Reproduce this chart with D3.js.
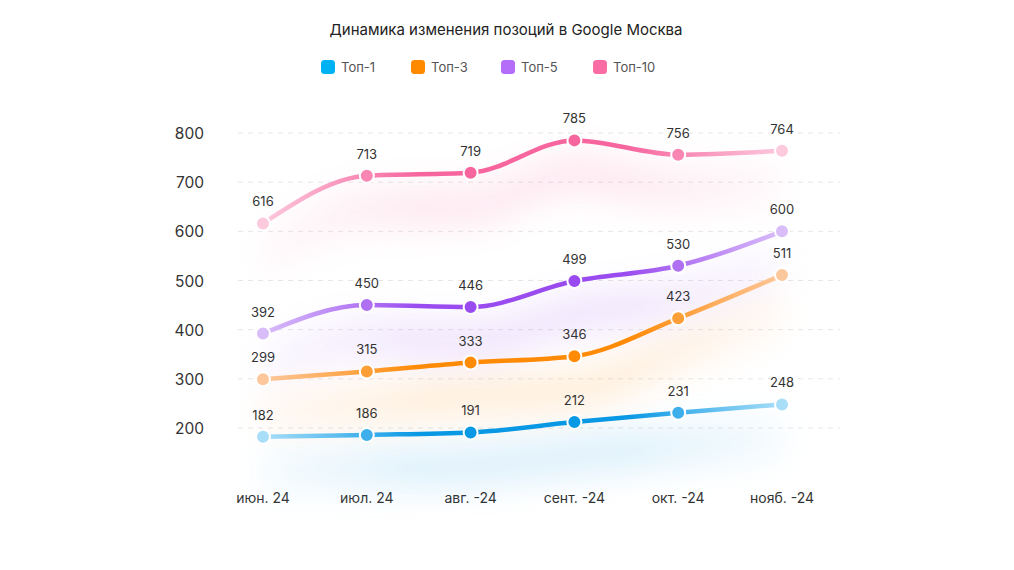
<!DOCTYPE html>
<html>
  <head>
    <meta charset="utf-8">
    <style>
      body { margin: 0; background: #fff; }
      text { font-family: Inter, "Noto Sans", sans-serif; }
    </style>
  </head>
  <body>
    <div id="vis"></div>
    <script src="https://d3js.org/d3.v7.min.js"></script>
    <script>
      const months = ['июн. 24', 'июл. 24', 'авг. -24', 'сент. -24', 'окт. -24', 'нояб. -24']
      const yTicks = [200, 300, 400, 500, 600, 700, 800]
      const seriesNames = ['Топ-1', 'Топ-3', 'Топ-5', 'Топ-10']
      const top1 = [182, 186, 191, 212, 231, 248]
      const top3 = [299, 315, 333, 346, 423, 511]
      const top5 = [392, 450, 446, 499, 530, 600]
      const top10 = [616, 713, 719, 785, 756, 764]
      // legend colour, dark line colour, pale end colour
      const legendColors = ['#00b2f4', '#ff8a00', '#b36df8', '#f96da4']
      const darkColors = ['#0898e4', '#ff8a05', '#9a4bef', '#f7659e']
      const lightColors = ['#a9def8', '#fdc79c', '#d9bdf9', '#fcc9dd']

      const width = 1014, height = 570
      const svg = d3.select('#vis').append('svg').attr('width', width).attr('height', height)
      const defs = svg.append('defs')

      const x = d3.scalePoint().domain(months).range([263, 782])
      const y = d3.scaleLinear().domain([200, 800]).range([428, 133])

      const blur = defs.append('filter').attr('id', 'glow')
        .attr('x', '-30%').attr('y', '-80%').attr('width', '160%').attr('height', '260%')
      blur.append('feGaussianBlur').attr('stdDeviation', 16)

      // title
      svg.append('text').attr('x', 506).attr('y', 35).attr('text-anchor', 'middle')
        .attr('font-size', 15).attr('fill', '#222').text('Динамика изменения позоций в Google Москва')

      // legend
      const legendX = [321, 411, 501, 593]
      const lg = svg.selectAll('.lg').data(seriesNames).join('g').attr('class', 'lg')
        .attr('transform', (d, i) => 'translate(' + legendX[i] + ',60)')
      lg.append('rect').attr('width', 14).attr('height', 14).attr('rx', 3.5)
        .attr('fill', (d, i) => legendColors[i])
      lg.append('text').attr('x', 20).attr('y', 12).attr('font-size', 13).attr('fill', '#555').text(d => d)

      // grid + y labels
      svg.append('g').selectAll('line').data(yTicks).join('line')
        .attr('x1', 238).attr('x2', 840).attr('y1', d => y(d)).attr('y2', d => y(d))
        .attr('stroke', '#e6e6e6').attr('stroke-dasharray', '5,5')
      svg.append('g').selectAll('text').data(yTicks).join('text')
        .attr('x', 204).attr('y', d => y(d) + 6).attr('text-anchor', 'end')
        .attr('font-size', 15.5).attr('fill', '#333').text(d => d)

      // x labels
      svg.append('g').selectAll('text').data(months).join('text')
        .attr('x', d => x(d)).attr('y', 503).attr('text-anchor', 'middle')
        .attr('font-size', 14).attr('fill', '#333').text(d => d)

      const series = [top1, top3, top5, top10]
      const line = d3.line().x((d, i) => x(months[i])).y(d => y(d)).curve(d3.curveMonotoneX)
      const area = d3.area().x((d, i) => x(months[i])).y0(d => y(d) + 55).y1(d => y(d) + 12).curve(d3.curveMonotoneX)

      // colour along each line: pale -> dark -> pale
      const stops = [0, 0.3, 0.7, 1]
      const ramp = i => {
        const c = d3.scaleLinear().domain(stops)
          .range([lightColors[i], darkColors[i], darkColors[i], lightColors[i]])
          .interpolate(d3.interpolateRgb)
        return t => c(t)
      }

      series.forEach((vals, i) => {
        const col = ramp(i)
        const g = defs.append('linearGradient').attr('id', 'grad' + i)
          .attr('gradientUnits', 'userSpaceOnUse')
          .attr('x1', x(months[0])).attr('x2', x(months[months.length - 1])).attr('y1', 0).attr('y2', 0)
        d3.range(0, 1.001, 0.1).forEach(t => {
          g.append('stop').attr('offset', t).attr('stop-color', col(t))
        })
      })

      // soft glows under lines
      series.forEach((vals, i) => {
        svg.append('path').datum(vals).attr('d', area)
          .attr('fill', 'url(#grad' + i + ')').attr('opacity', 0.13).attr('filter', 'url(#glow)')
      })

      series.forEach((vals, i) => {
        const col = ramp(i)
        svg.append('path').datum(vals).attr('d', line)
          .attr('fill', 'none').attr('stroke', 'url(#grad' + i + ')').attr('stroke-width', 4.5)
          .attr('stroke-linecap', 'round')
        svg.append('g').selectAll('circle').data(vals).join('circle')
          .attr('cx', (d, j) => x(months[j])).attr('cy', d => y(d)).attr('r', 7)
          .attr('fill', (d, j) => col(j / (vals.length - 1)))
          .attr('stroke', '#fff').attr('stroke-width', 2)
        svg.append('g').selectAll('text').data(vals).join('text')
          .attr('x', (d, j) => x(months[j])).attr('y', d => y(d) - 17)
          .attr('text-anchor', 'middle').attr('font-size', 13).attr('fill', '#333')
          .text(d => d)
      })
    </script>
  </body>
</html>
